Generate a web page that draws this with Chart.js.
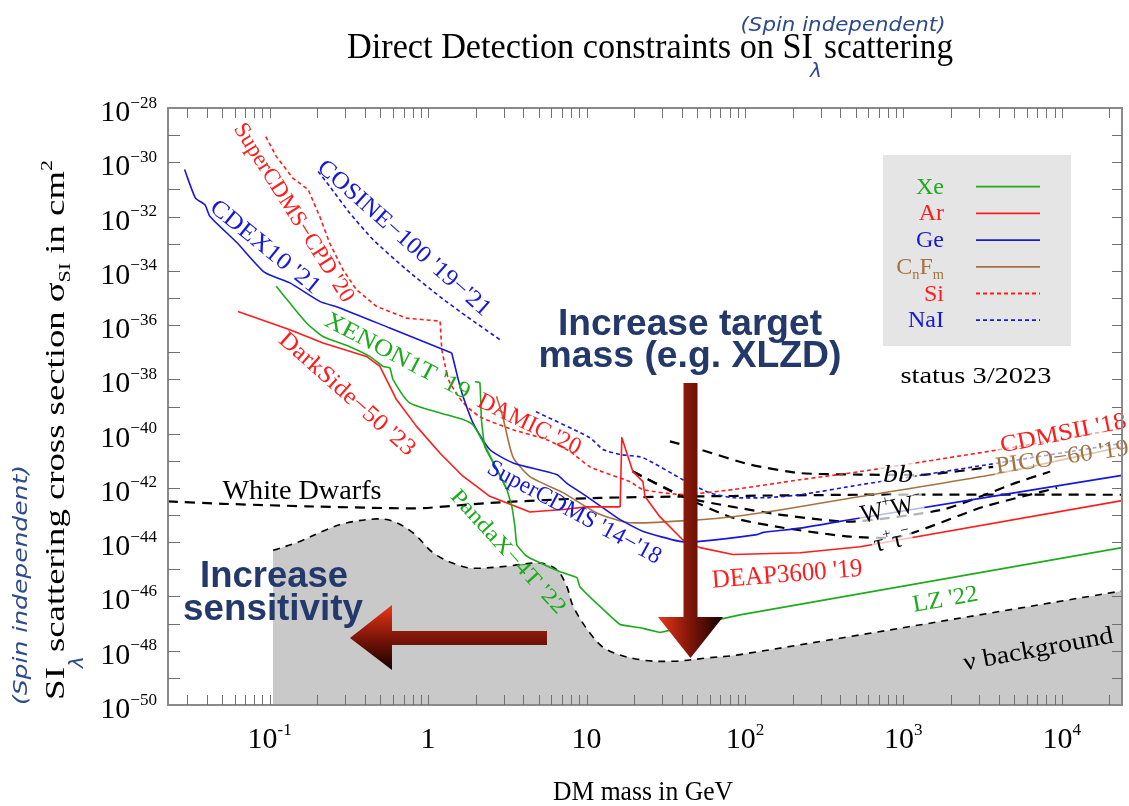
<!DOCTYPE html>
<html>
<head>
<meta charset="utf-8">
<script src="https://cdn.jsdelivr.net/npm/chart.js@4.4.1/dist/chart.umd.min.js"></script>
<style>
html, body { margin: 0; padding: 0; background: #fff; overflow: hidden; }
canvas { display: block; }
</style>
</head>
<body>
<canvas id="chart" width="1129" height="806"></canvas>
<script>
// Direct detection limits, [DM mass in GeV, SI cross section in cm^2]
const cdex10 = [[0.029, 5.4e-31], [0.034, 4.8e-32], [0.039, 2.7e-32], [0.042, 1.0e-32], [0.062, 1.1e-33], [0.093, 8.7e-35], [0.134, 3.6e-35], [0.207, 7.5e-36], [0.277, 4.3e-36], [0.573, 7.8e-37], [1.41, 9.4e-38]];
const superCdms = [[1.41, 9.4e-38], [1.55, 9.8e-39], [1.66, 2.4e-39], [1.92, 2.5e-40], [2.45, 2.6e-41], [3.44, 8.3e-42], [6.48, 3.1e-42], [7.49, 1.5e-42], [10.0, 4.9e-43], [14.1, 1.2e-43], [16.3, 6.8e-44], [22.8, 2.5e-44], [38.9, 1.07e-44], [52, 1.07e-44], [119, 1.9e-44], [131, 2.3e-44], [223, 3.3e-44], [533, 7.8e-44], [24000, 2.9e-42]];
const superCdmsCpd = [[0.0944, 8.9e-30], [0.110, 1.65e-30], [0.140, 2.6e-31], [0.175, 9.8e-32], [0.207, 1.0e-32], [0.239, 1.06e-33], [0.290, 1.1e-34], [0.353, 2.0e-35], [0.472, 4.9e-36], [0.730, 1.8e-36], [1.19, 1.4e-36], [1.22, 1.2e-37], [1.31, 1.7e-38]];
const damicCdms = [[1.31, 1.7e-38], [1.37, 7.6e-39], [1.66, 1.4e-39], [2.12, 4.2e-40], [3.43, 1.4e-40], [5.6, 6.0e-41], [7.86, 2.2e-41], [10.5, 6.0e-42], [18.8, 1.7e-42], [22.7, 8.7e-43], [40.6, 5.7e-43], [84, 8.7e-43], [223, 2.0e-42], [533, 4.0e-42], [4080, 2.6e-41], [24000, 1.55e-40]];
const cosine100 = [[0.202, 4.6e-31], [0.239, 1.3e-31], [0.320, 1.35e-32], [0.450, 1.4e-33], [0.731, 1.1e-34], [1.19, 1.1e-35], [1.75, 2.1e-36], [2.84, 2.9e-37]];
const naiHigh = [[4.8, 6.4e-40], [10.5, 7.1e-41], [12.7, 2.6e-41], [16.3, 1.7e-41], [22.7, 1.3e-41], [40.6, 2.0e-42], [60, 6.6e-43], [84, 4.4e-43], [138, 4.4e-43], [223, 5.6e-43], [533, 1.3e-42], [4080, 8.5e-42], [24000, 4.4e-41]];
const darkSide50 = [[0.063, 3.2e-36], [0.134, 6.8e-37], [0.217, 2.2e-37], [0.408, 7.0e-38], [0.496, 3.0e-38], [0.546, 9.8e-39], [0.631, 1.8e-39], [0.845, 1.85e-40], [1.19, 1.9e-41], [1.66, 2.7e-42], [2.45, 4.9e-43], [4.39, 1.3e-43], [7.1, 1.6e-43], [10.06, 2.0e-43], [16.3, 2.0e-43]];
const deap3600 = [[16.3, 2.0e-43], [16.7, 7.1e-41], [19.6, 4.0e-42], [22.7, 1.7e-42], [23.4, 4.8e-43], [29, 8.7e-44], [40.6, 1.2e-44], [52, 6.3e-45], [84, 3.5e-45], [223, 4.1e-45], [533, 6.8e-45], [24000, 3.4e-43]];
const xenon1t = [[0.110, 2.7e-35], [0.134, 6.5e-36], [0.171, 1.2e-36], [0.217, 3.8e-37], [0.320, 1.6e-37], [0.428, 7.0e-38], [0.520, 3.0e-38], [0.573, 2.6e-38], [0.601, 9.8e-39], [0.766, 1.35e-39], [1.19, 5.8e-40], [1.66, 3.3e-40], [1.92, 2.1e-40], [2.22, 5.0e-41], [2.72, 4.7e-42], [3.14, 8.7e-43]];
const pandax4t = [[1.97, 8.2e-39], [2.12, 7.6e-39], [2.17, 3.3e-40], [2.28, 3.3e-41], [2.72, 4.7e-42], [3.14, 8.7e-43], [3.38, 2.0e-43], [3.53, 3.7e-44], [3.63, 8.1e-45], [4.08, 3.5e-45], [4.59, 2.3e-45], [6.79, 8.2e-46], [8.7, 4.9e-46], [9.08, 2.3e-46], [12.2, 4.2e-47], [16.3, 9.2e-48], [21.7, 7.1e-48], [29.1, 4.7e-48]];
const lz22 = [[29.1, 4.7e-48], [35.1, 6.0e-48], [93, 2.1e-47], [24000, 6.3e-45]];
const pico60 = [[2.70, 2.4e-39], [2.96, 4.2e-40], [3.43, 1.4e-41], [4.39, 2.6e-42], [7.10, 6.7e-43], [11.6, 1.2e-43], [18.8, 5.2e-44], [52, 6.7e-44], [84, 8.7e-44], [174, 1.6e-43], [533, 4.8e-43], [3690, 3.1e-42], [24000, 3.3e-41]];

// astrophysical / indirect bounds
const whiteDwarfs = [[0.0228, 3.2e-43], [0.0505, 2.6e-43], [0.171, 2.1e-43], [0.573, 1.8e-43], [0.93, 1.8e-43], [2.45, 2.8e-43], [12.2, 4.3e-43], [533, 5.6e-43], [24000, 5.6e-43]];
const bbBar = [[33.6, 5.2e-41], [52, 2.6e-41], [108, 7.2e-42], [223, 3.5e-42], [533, 3.1e-42], [1390, 3.1e-42], [3690, 6.0e-42]];
const wPlusWMinus = [[19.6, 4.0e-42], [40.6, 4.8e-43], [84, 2.0e-43], [174, 1.0e-43], [461, 5.7e-44], [1780, 1.6e-43], [5230, 1.6e-42], [8450, 4.0e-42]];
const tauTau = [[19.6, 4.0e-42], [40.6, 4.8e-43], [84, 7.9e-44], [174, 3.4e-44], [461, 1.6e-44], [953, 1.6e-44], [3190, 2.0e-43], [9350, 1.0e-42]];
const nuFloor = [[0.105, 5.0e-45], [0.155, 1.07e-44], [0.228, 2.9e-44], [0.305, 5.1e-44], [0.472, 7.2e-44], [0.601, 5.9e-44], [0.804, 2.2e-44], [1.08, 4.0e-45], [1.51, 1.5e-45], [1.92, 1.1e-45], [3.13, 1.3e-45], [5.08, 1.7e-45], [6.48, 9.7e-46], [7.49, 2.4e-46], [8.24, 4.3e-47], [10.5, 4.5e-48], [13.4, 1.1e-48], [21.7, 4.7e-49], [35.3, 4.1e-49], [57.4, 5.4e-49], [93, 7.2e-49], [24000, 1.6e-46]];

// axes
const xMin = 0.0228, xMax = 24000;
const yMin = 1e-50, yMax = 1e-28;
const yLabelExps = [-28, -30, -32, -34, -36, -38, -40, -42, -44, -46, -48, -50];
const xLabelValues = [0.1, 1, 10, 100, 1000, 10000];
const xLabelText = [['10', '-1'], ['1', ''], ['10', ''], ['10', '2'], ['10', '3'], ['10', '4']];

// legend
const legendParts = [[['Xe', 0]], [['Ar', 0]], [['Ge', 0]], [['C', 0], ['n', -1], ['F', 0], ['m', -1]], [['Si', 0]], [['NaI', 0]]];
const XE = '#1dab1d', AR = '#ff1c1c', GE = '#1818d8', CF = '#a5733f';
const legendColors = [XE, AR, GE, CF, AR, GE];
const legendDotted = [false, false, false, false, true, true];

const SERIF = '"Liberation Serif", "DejaVu Serif", serif';
const SANS = '"Liberation Sans", Arial, sans-serif';
const HAND = '"DejaVu Sans", sans-serif';
const INK = '#24396b';
const HANDINK = '#2d4a8c';
const DOT = [4, 3];
const DASH = [10, 7];

function line(label, data, color, extra) {
    return Object.assign({
        label: label, data: data, borderColor: color, borderWidth: 1.6,
        pointRadius: 0, fill: false, tension: 0.2, borderJoinStyle: 'round'
    }, extra || {});
}

// text with sub/superscripts, optional fit to a width and rotation
function richText(ctx, parts, x, y, o) {
    const size = o.size, fam = o.family || SERIF, st = o.style || '';
    const supK = o.supK || 0.6;
    const segs = parts.map(p => {
        const s = p[1] ? size * supK : size;
        ctx.font = st + ' ' + s + 'px ' + fam;
        return { t: p[0], k: p[1], s: s, w: ctx.measureText(p[0]).width };
    });
    const total = segs.reduce((a, g) => a + g.w, 0);
    const sx = o.width ? o.width / total : 1;
    ctx.save();
    ctx.translate(x, y);
    if (o.angle) ctx.rotate(o.angle * Math.PI / 180);
    ctx.scale(sx, 1);
    let cx = o.align === 'right' ? -total : o.align === 'center' ? -total / 2 : 0;
    const by = o.mid ? size * 0.34 : 0;
    if (o.bg) {
        ctx.fillStyle = o.bg;
        ctx.fillRect(cx - 2, by - size * 0.85, total + 4, size * 1.05);
    }
    ctx.fillStyle = o.color || '#000';
    ctx.textAlign = 'left';
    ctx.textBaseline = 'alphabetic';
    for (const g of segs) {
        ctx.font = st + ' ' + g.s + 'px ' + fam;
        const dy = g.k > 0 ? -size * 0.45 : g.k < 0 ? size * 0.22 : 0;
        ctx.fillText(g.t, cx, by + dy);
        cx += g.w;
    }
    ctx.restore();
}

const curveLabels = [
    { t: [["SuperCDMS\u2212CPD '20", 0]], c: AR, x: 295, y: 212, a: 57.8, s: 23, w: 207 },
    { t: [["COSINE\u2212100 '19\u2212'21", 0]], c: GE, x: 405, y: 237, a: 41.5, s: 24, w: 223 },
    { t: [["CDEX10 '21", 0]], c: GE, x: 266, y: 246, a: 39, s: 24, w: 135 },
    { t: [["XENON1T '19", 0]], c: XE, x: 398, y: 355, a: 27.7, s: 24, w: 161 },
    { t: [["DarkSide\u221250 '23", 0]], c: AR, x: 348, y: 393, a: 41.5, s: 24, w: 174 },
    { t: [["DAMIC '20", 0]], c: AR, x: 530, y: 423, a: 26, s: 24, w: 112 },
    { t: [["SuperCDMS '14\u2212'18", 0]], c: GE, x: 575, y: 511, a: 28.3, s: 24, w: 194 },
    { t: [["PandaX\u22124T '22", 0]], c: XE, x: 509, y: 551, a: 47.5, s: 22, w: 160 },
    { t: [["DEAP3600 '19", 0]], c: AR, x: 787, y: 573, a: -4.5, s: 26, w: 151 },
    { t: [["LZ '22", 0]], c: XE, x: 945, y: 598, a: -10, s: 24, w: 66 },
    { t: [["\u03bd background", 0]], c: '#000', x: 1038, y: 648, a: -10.5, s: 25, w: 152 },
    { t: [["White Dwarfs", 0]], c: '#000', x: 302, y: 490, a: 0, s: 27, w: 159 },
    { t: [["CDMSII '18", 0]], c: AR, x: 1063, y: 432, a: -11.3, s: 24, w: 128, bg: 'rgba(255,255,255,0.6)' },
    { t: [["PICO\u221260 '19", 0]], c: CF, x: 1062, y: 456, a: -8, s: 24, w: 134, bg: 'rgba(255,255,255,0.6)' },
    { t: [["bb", 0]], c: '#000', x: 898, y: 473, a: 0, s: 26, w: 30, st: 'italic', bg: 'rgba(255,255,255,0.7)' },
    { t: [["W", 0], ["+", 1], ["W", 0], ["\u2212", 1]], c: '#000', x: 891, y: 508, a: -12, s: 26, w: 62, bg: 'rgba(255,255,255,0.7)' },
    { t: [["\u03c4", 0], ["+", 1], ["\u03c4", 0], ["\u2212", 1]], c: '#000', x: 892, y: 540, a: -12, s: 24, w: 37, bg: 'rgba(255,255,255,0.7)' }
];

function drawArrows(ctx) {
    // vertical arrow
    let g = ctx.createLinearGradient(683, 0, 698, 0);
    g.addColorStop(0, '#8e1c0b');
    g.addColorStop(1, '#6a1006');
    ctx.fillStyle = g;
    ctx.fillRect(683.5, 383, 14, 235);
    g = ctx.createLinearGradient(658, 0, 723, 0);
    g.addColorStop(0, '#e8381a');
    g.addColorStop(0.5, '#7e1508');
    g.addColorStop(1, '#140000');
    ctx.fillStyle = g;
    ctx.beginPath();
    ctx.moveTo(658, 617); ctx.lineTo(723, 617); ctx.lineTo(690.5, 658); ctx.closePath();
    ctx.fill();
    // horizontal arrow
    g = ctx.createLinearGradient(0, 631, 0, 645);
    g.addColorStop(0, '#8e1c0b');
    g.addColorStop(1, '#6a1006');
    ctx.fillStyle = g;
    ctx.fillRect(391, 631, 156, 14);
    g = ctx.createLinearGradient(0, 605, 0, 670);
    g.addColorStop(0, '#ec3414');
    g.addColorStop(0.5, '#7e1508');
    g.addColorStop(1, '#140000');
    ctx.fillStyle = g;
    ctx.beginPath();
    ctx.moveTo(392, 605); ctx.lineTo(392, 670); ctx.lineTo(350, 638); ctx.closePath();
    ctx.fill();
}

const decor = {
    id: 'decor',
    beforeDraw(chart) {
        const ctx = chart.ctx;
        ctx.save();
        ctx.fillStyle = '#fff';
        ctx.fillRect(0, 0, chart.width, chart.height);
        ctx.restore();
    },
    afterDatasetsDraw(chart) {
        const ctx = chart.ctx;
        const xs = chart.scales.x, ys = chart.scales.y;
        const a = chart.chartArea;
        ctx.save();

        // curve labels
        for (const l of curveLabels) {
            richText(ctx, l.t, l.x, l.y, { size: l.s, angle: l.a, width: l.w, color: l.c, align: 'center', mid: true, style: l.st, bg: l.bg });
        }

        // legend box
        ctx.fillStyle = '#e5e5e5';
        ctx.fillRect(883, 155, 188, 191);
        legendParts.forEach((p, i) => {
            const ly = 186.7 + i * 26.7;
            richText(ctx, p, 944, ly + 7, { size: 24, align: 'right', color: legendColors[i] });
            ctx.strokeStyle = legendColors[i];
            ctx.lineWidth = 1.8;
            ctx.setLineDash(legendDotted[i] ? DOT : []);
            ctx.beginPath();
            ctx.moveTo(976, ly); ctx.lineTo(1040, ly);
            ctx.stroke();
        });
        ctx.setLineDash([]);
        richText(ctx, [['status 3/2023', 0]], 976, 383, { size: 24, align: 'center', width: 151 });

        drawArrows(ctx);

        // annotations
        richText(ctx, [['Increase target', 0]], 690, 335, { size: 37, family: SANS, style: 'bold', align: 'center', width: 264, color: INK });
        richText(ctx, [['mass (e.g. XLZD)', 0]], 690, 367, { size: 37, family: SANS, style: 'bold', align: 'center', width: 303, color: INK });
        richText(ctx, [['Increase', 0]], 274, 587, { size: 37, family: SANS, style: 'bold', align: 'center', width: 148, color: INK });
        richText(ctx, [['sensitivity', 0]], 273, 620, { size: 37, family: SANS, style: 'bold', align: 'center', width: 180, color: INK });

        // frame and inward ticks
        ctx.strokeStyle = '#8a8a8a';
        ctx.lineWidth = 2;
        ctx.strokeRect(a.left, a.top, a.right - a.left, a.bottom - a.top);
        ctx.lineWidth = 1;
        ctx.strokeStyle = '#707070';
        ctx.beginPath();
        for (let e = -2; e <= 4; e++) {
            for (let k = 1; k <= 9; k++) {
                const v = k * Math.pow(10, e);
                if (v <= xMin || v >= xMax) continue;
                const px = Math.round(xs.getPixelForValue(v)) + 0.5;
                ctx.moveTo(px, a.bottom); ctx.lineTo(px, a.bottom - 10);
                ctx.moveTo(px, a.top); ctx.lineTo(px, a.top + 10);
            }
        }
        for (let e = -49; e <= -29; e++) {
            const py = Math.round(ys.getPixelForValue(Math.pow(10, e))) + 0.5;
            ctx.moveTo(a.left, py); ctx.lineTo(a.left + 12, py);
            ctx.moveTo(a.right, py); ctx.lineTo(a.right - 10, py);
        }
        ctx.stroke();

        // tick labels
        yLabelExps.forEach(e => {
            const py = ys.getPixelForValue(Math.pow(10, e));
            richText(ctx, [['10', 0], ['\u2212' + (-e), 1]], 157, py + 13, { size: 30, align: 'right', supK: 0.57 });
        });
        xLabelValues.forEach((v, i) => {
            const px = xs.getPixelForValue(v);
            const t = xLabelText[i];
            const parts = t[1] ? [[t[0], 0], [t[1], 1]] : [[t[0], 0]];
            richText(ctx, parts, px, 748, { size: 30, align: 'center', supK: 0.57 });
        });

        // titles
        richText(ctx, [['Direct Detection constraints on SI', 0]], 347, 58, { size: 36, width: 466 });
        richText(ctx, [['scattering', 0]], 824, 58, { size: 36, width: 129 });
        richText(ctx, [['(Spin independent)', 0]], 843, 24, { size: 20, family: HAND, style: 'italic', align: 'center', width: 205, color: HANDINK, mid: true });
        richText(ctx, [['\u03bb', 0]], 816, 70, { size: 20, family: HAND, style: 'italic', align: 'center', color: HANDINK, mid: true });

        richText(ctx, [['DM mass in GeV', 0]], 643, 800, { size: 27, align: 'center', width: 180 });

        richText(ctx, [['SI', 0]], 64, 700, { size: 27, angle: -90, width: 33 });
        richText(ctx, [['scattering cross section ', 0], ['\u03c3', 0], ['SI', -1], [' in cm', 0], ['2', 1]], 64, 652, { size: 27, angle: -90, width: 492 });
        richText(ctx, [['(Spin independent)', 0]], 20, 585, { size: 20, family: HAND, style: 'italic', angle: -90, align: 'center', width: 240, color: HANDINK, mid: true });
        richText(ctx, [['\u03bb', 0]], 76, 662, { size: 20, family: HAND, style: 'italic', angle: -90, align: 'center', color: HANDINK, mid: true });

        ctx.restore();
    }
};

new Chart(document.getElementById('chart'), {
    type: 'line',
    data: {
        datasets: [
            line("XENON1T '19", xenon1t, XE),
            line("PandaX-4T '22", pandax4t, XE, { tension: 0.1 }),
            line("LZ '22", lz22, XE, { tension: 0 }),
            line("DarkSide-50 '23", darkSide50, AR, { tension: 0 }),
            line("DEAP3600 '19", deap3600, AR, { tension: 0 }),
            line("CDEX10 '21", cdex10, GE),
            line("SuperCDMS '14-'18", superCdms, GE),
            line("PICO-60 '19", pico60, CF),
            line("SuperCDMS-CPD '20", superCdmsCpd, AR, { borderDash: DOT, tension: 0 }),
            line("DAMIC '20 / CDMSII '18", damicCdms, AR, { borderDash: DOT }),
            line("COSINE-100 '19-'21", cosine100, GE, { borderDash: DOT }),
            line('NaI', naiHigh, GE, { borderDash: DOT }),
            line('White Dwarfs', whiteDwarfs, '#000', { borderDash: DASH, borderWidth: 2.2 }),
            line('bb', bbBar, '#000', { borderDash: DASH, borderWidth: 2.2 }),
            line('W+W-', wPlusWMinus, '#000', { borderDash: DASH, borderWidth: 2.2 }),
            line('tau+tau-', tauTau, '#000', { borderDash: DASH, borderWidth: 2.2 }),
            line('nu background', nuFloor, '#000', { borderDash: [7, 6], borderWidth: 1.6, fill: 'start', backgroundColor: '#c9c9c9', tension: 0.35, order: 10 })
        ]
    },
    options: {
        responsive: false,
        animation: false,
        layout: { padding: { left: 0, top: 108, right: 7, bottom: 0 } },
        plugins: { legend: { display: false }, tooltip: { enabled: false }, title: { display: false } },
        scales: {
            x: {
                type: 'logarithmic', min: xMin, max: xMax,
                ticks: { display: false }, grid: { display: false }, border: { display: false },
                afterFit: s => { s.height = 101; }
            },
            y: {
                type: 'logarithmic', min: yMin, max: yMax,
                ticks: { display: false }, grid: { display: false }, border: { display: false },
                afterFit: s => { s.width = 168; }
            }
        }
    },
    plugins: [decor]
});
</script>
</body>
</html>
